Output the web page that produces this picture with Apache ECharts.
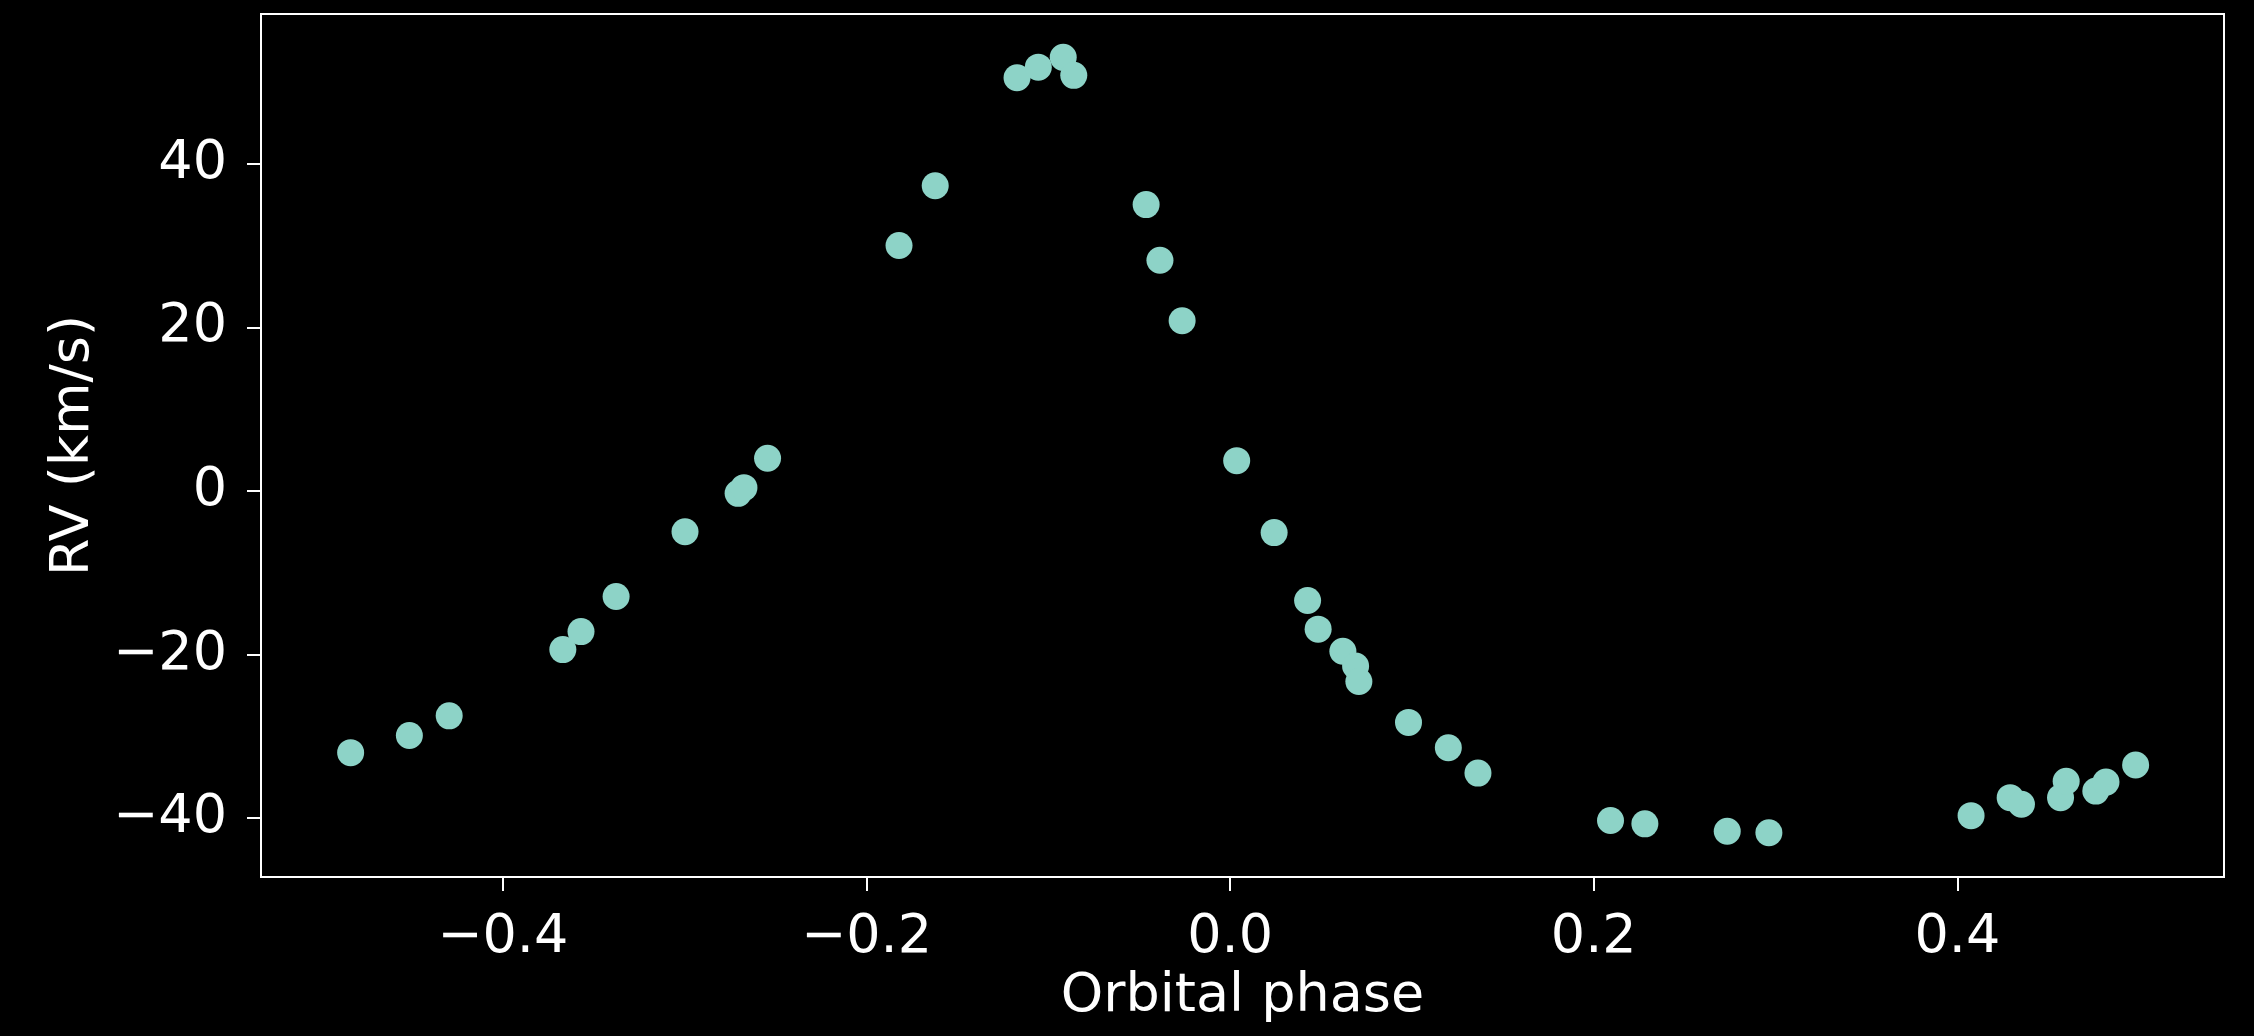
<!DOCTYPE html>
<html>
<head>
<meta charset="utf-8">
<script src="https://cdn.jsdelivr.net/npm/echarts@6/dist/echarts.min.js"></script>
<style>
  html, body { margin: 0; padding: 0; background: #000; }
  #chart { width: 2254px; height: 1036px; }
</style>
</head>
<body>
<div id="chart"></div>
<script>
// orbital phase and radial velocity (km/s)
const phase = [
  -0.4837, -0.4514, -0.4295, -0.3670, -0.3570, -0.3377, -0.2998, -0.2706, -0.2674, -0.2544,
  -0.1821, -0.1622, -0.1172, -0.1055, -0.0918, -0.0860, -0.0462, -0.0386, -0.0264,
  0.0036, 0.0242, 0.0426, 0.0484, 0.0620, 0.0690, 0.0708, 0.0981, 0.1200, 0.1363,
  0.2092, 0.2281, 0.2734, 0.2963, 0.4075, 0.4290, 0.4352, 0.4567, 0.4598, 0.4761, 0.4817, 0.4980
];
const rv = [
  -32.0, -29.9, -27.5, -19.4, -17.2, -12.9, -5.0, -0.3, 0.4, 4.0,
  30.0, 37.3, 50.5, 51.8, 53.0, 50.8, 35.0, 28.2, 20.8,
  3.7, -5.1, -13.4, -16.9, -19.6, -21.4, -23.3, -28.3, -31.4, -34.5,
  -40.3, -40.7, -41.6, -41.8, -39.7, -37.5, -38.3, -37.5, -35.5, -36.7, -35.6, -33.5
];
const xTicks = [-0.4, -0.2, 0.0, 0.2, 0.4];
const yTicks = [-40, -20, 0, 20, 40];

const points = phase.map((p, i) => [p, rv[i]]);
const minus = s => s.replace('-', '\u2212');
const font = 'DejaVu Sans';

var myChart = echarts.init(document.getElementById('chart'));

myChart.setOption({
  backgroundColor: '#000',
  animation: false,
  grid: {
    left: 261,
    right: 30,
    top: 14,
    bottom: 159,
    show: true,
    borderColor: '#fff',
    borderWidth: 2,
    backgroundColor: 'transparent'
  },
  xAxis: {
    type: 'value',
    min: -0.533,
    max: 0.5466,
    name: 'Orbital phase',
    nameLocation: 'middle',
    nameGap: 92,
    nameTextStyle: { color: '#fff', fontSize: 54, fontFamily: font },
    axisLine: { show: true, onZero: false, lineStyle: { color: '#fff', width: 2 } },
    axisTick: { show: true, length: 14, lineStyle: { color: '#fff', width: 2 }, customValues: xTicks },
    axisLabel: {
      color: '#fff', fontSize: 54, fontFamily: font, margin: 34,
      customValues: xTicks,
      formatter: v => minus(v.toFixed(1))
    },
    splitLine: { show: false }
  },
  yAxis: {
    type: 'value',
    min: -47.2,
    max: 58.3,
    name: 'RV (km/s)',
    nameLocation: 'middle',
    nameGap: 160,
    nameTextStyle: { color: '#fff', fontSize: 54, fontFamily: font },
    axisLine: { show: true, onZero: false, lineStyle: { color: '#fff', width: 2 } },
    axisTick: { show: true, length: 14, lineStyle: { color: '#fff', width: 2 }, customValues: yTicks },
    axisLabel: {
      color: '#fff', fontSize: 54, fontFamily: font, margin: 34,
      customValues: yTicks,
      formatter: v => minus(String(Math.round(v)))
    },
    splitLine: { show: false }
  },
  series: [
    {
      type: 'scatter',
      data: points,
      symbol: 'circle',
      symbolSize: 27,
      itemStyle: { color: '#8dd3c7', opacity: 1 }
    }
  ]
});
</script>
</body>
</html>
